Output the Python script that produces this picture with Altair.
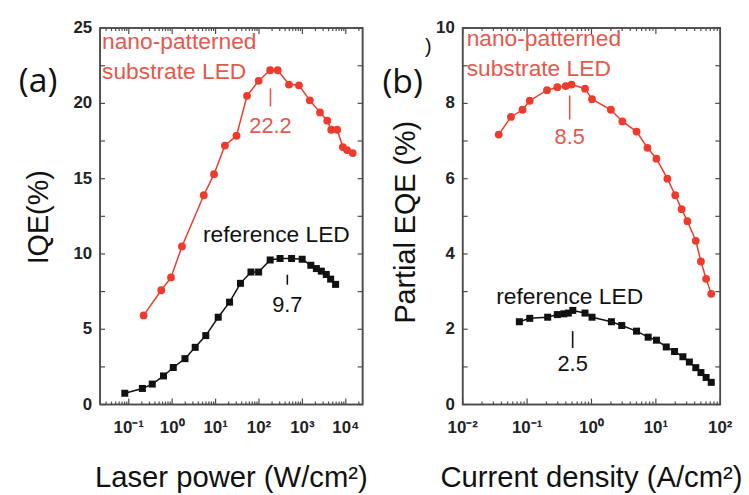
import math
import altair as alt
import pandas as pd

RED = "#ee3b2b"
RED_TEXT = "#e5584c"
BLACK = "#111111"
FRAME = "#4a4a4a"
FONT = "Liberation Sans"
LETTER_FONT = "Open Sans"

# ---------------- panel (a): IQE vs laser power ----------------
a_nano_power = [0.22, 0.56, 0.94, 1.68, 5.35, 9.2, 16.4, 30.3, 53, 98, 181, 270,
                492, 832, 1483, 2547, 3741, 4613, 6324, 8551, 10715, 14454]
a_nano_iqe = [5.92, 7.59, 8.44, 10.5, 13.9, 15.3, 17.2, 17.85, 20.5, 21.5, 22.2, 22.2,
              21.25, 21.2, 20.2, 19.4, 18.85, 18.25, 18.25, 17.1, 16.9, 16.7]
a_ref_power = [0.081, 0.206, 0.348, 0.63, 1.06, 1.97, 3.39, 5.94, 11.5, 21.0, 37.4, 65.3,
               98, 181, 306, 564, 989, 1563, 2099, 2729, 3548, 4477, 5821]
a_ref_iqe = [0.75, 1.07, 1.36, 1.9, 2.46, 3.05, 3.8, 4.58, 5.8, 6.8, 8.05, 8.8,
             8.8, 9.6, 9.7, 9.7, 9.65, 9.25, 9.03, 8.86, 8.64, 8.33, 7.98]
a_x_exponents = [-1, 0, 1, 2, 3, 4]
a_y_labels = [0, 5, 10, 15, 20, 25]
# peak call-outs: x position, tick top / bottom, label position
a_call_x = [184, 450]
a_call_top = [21.0, 8.62]
a_call_bottom = [19.8, 7.96]
a_call_label_y = [18.5, 6.64]

# ---------------- panel (b): partial EQE vs current density ----------------
b_nano_current = [0.0363, 0.0562, 0.0851, 0.110, 0.204, 0.295, 0.398, 0.490, 0.794, 1.02,
                  2.0, 3.02, 5.01, 7.41, 10.2, 15.1, 20.0, 25.1, 30.9, 41.7, 50.1, 60.3, 72.4]
b_nano_eqe = [7.17, 7.64, 7.83, 8.07, 8.35, 8.43, 8.46, 8.5, 8.39, 8.11,
              7.83, 7.52, 7.25, 6.82, 6.53, 6.0, 5.56, 5.19, 4.87, 4.35, 3.8, 3.34, 2.94]
b_ref_current = [0.0759, 0.110, 0.209, 0.295, 0.372, 0.437, 0.513, 0.794, 1.02, 2.04, 2.95,
                 5.01, 7.59, 10.2, 14.5, 19.5, 26.3, 33.1, 41.7, 50.1, 60.3, 72.4]
b_ref_eqe = [2.2, 2.29, 2.32, 2.39, 2.41, 2.43, 2.5, 2.43, 2.32, 2.2, 2.1,
             1.95, 1.79, 1.71, 1.53, 1.41, 1.27, 1.13, 0.98, 0.85, 0.72, 0.59]
b_x_exponents = [-2, -1, 0, 1, 2]
b_y_labels = [0, 2, 4, 6, 8, 10]
b_call_x = [0.459, 0.51]
b_call_top = [8.21, 1.95]
b_call_bottom = [7.57, 1.50]
b_call_label_y = [7.10, 1.08]

SUP = str.maketrans("-0123456789", "⁻⁰¹²³⁴⁵⁶⁷⁸⁹")


def minor_values(lo, hi):
    vals = []
    for e in range(-4, 6):
        for m in range(2, 10):
            v = m * 10.0 ** e
            if lo <= v <= hi:
                vals.append(v)
    return vals


def note(text, x, y, size, color, align="left", font=FONT, angle=0):
    return alt.Chart(pd.DataFrame({"t": [text]})).mark_text(
        align=align, baseline="middle", font=font, fontSize=size, color=color, angle=angle
    ).encode(x=alt.value(x), y=alt.value(y), text="t:N")


def panel(nano_x, nano_y, ref_x, ref_y, call_x, call_top, call_bottom, call_label_y,
          xdom, ydom, ylabels, ytick_step, exps, xtitle, ytitle, ytitle_x, ytitle_y,
          notes, W, H):
    xs = alt.Scale(type="log", domain=xdom, nice=False)
    ys = alt.Scale(domain=ydom, nice=False, zero=False)
    major = [10.0 ** e for e in exps]
    minor = minor_values(xdom[0], xdom[1])
    yticks = []
    v = ydom[0]
    while v <= ydom[1] + 1e-9:
        yticks.append(v)
        v += ytick_step

    # pixel lengths of tick marks expressed in data units of each scale
    y_per_px = (ydom[1] - ydom[0]) / H
    logx_per_px = math.log10(xdom[1] / xdom[0]) / W

    def X(field):
        return alt.X(field, scale=xs, axis=None)

    def Y(field):
        return alt.Y(field, scale=ys, axis=None)

    nano = pd.DataFrame({"x": nano_x, "y": nano_y})
    ref = pd.DataFrame({"x": ref_x, "y": ref_y})
    labels = [f"{max(nano_y):.1f}", f"{max(ref_y):.1f}"]
    calls = pd.DataFrame({"x": call_x, "y": call_top, "y2": call_bottom,
                          "ly": call_label_y, "label": labels,
                          "c": [RED_TEXT, BLACK]})

    lo_x, hi_x = xdom
    lo_y, hi_y = ydom

    # frame and tick marks drawn as short polylines, one group per segment
    seg_rows = []

    def add_seg(x1, y1, x2, y2, width):
        k = len(seg_rows)
        seg_rows.append((k, 0, x1, y1, width))
        seg_rows.append((k, 1, x2, y2, width))

    def add_xticks(values, size):
        dy = size * y_per_px
        for v in values:
            add_seg(v, lo_y, v, lo_y + dy, 1.2)
            add_seg(v, hi_y, v, hi_y - dy, 1.2)

    def add_yticks(values, size):
        f = 10 ** (size * logx_per_px)
        for v in values:
            add_seg(lo_x, v, lo_x * f, v, 1.2)
            add_seg(hi_x, v, hi_x / f, v, 1.2)

    add_xticks(major, 6)
    add_xticks(minor, 3)
    add_yticks(yticks, 5)
    segs = pd.DataFrame(seg_rows, columns=["k", "o", "x", "y", "w"])
    tick_marks = alt.Chart(segs).mark_line(color=FRAME, strokeWidth=1.2).encode(
        x=X("x:Q"), y=Y("y:Q"), detail="k:N", order="o:Q")

    box = pd.DataFrame({"x": [lo_x, hi_x, hi_x, lo_x, lo_x],
                        "y": [lo_y, lo_y, hi_y, hi_y, lo_y],
                        "o": [0, 1, 2, 3, 4]})
    frame = alt.Chart(box).mark_line(color=FRAME, strokeWidth=1.6).encode(
        x=X("x:Q"), y=Y("y:Q"), order="o:Q")

    # tick labels
    xlab = pd.DataFrame({"v": major, "t": ["10" + str(e).translate(SUP) for e in exps]})
    x_labels = alt.Chart(xlab).mark_text(
        font=FONT, fontSize=17, fontWeight="bold", color="#222", baseline="middle"
    ).encode(x=X("v:Q"), y=alt.value(H + 24), text="t:N")
    ylab = pd.DataFrame({"v": ylabels, "t": [str(v) for v in ylabels]})
    y_labels = alt.Chart(ylab).mark_text(
        font=FONT, fontSize=17, fontWeight="bold", color="#222", baseline="middle",
        align="right"
    ).encode(y=Y("v:Q"), x=alt.value(-8), text="t:N")

    nano_line = alt.Chart(nano).mark_line(color=RED, strokeWidth=1.5).encode(
        x=X("x:Q"), y=Y("y:Q"))
    nano_pts = alt.Chart(nano).mark_circle(color=RED, size=62, opacity=1).encode(
        x=X("x:Q"), y=Y("y:Q"))
    ref_line = alt.Chart(ref).mark_line(color=BLACK, strokeWidth=1.5).encode(
        x=X("x:Q"), y=Y("y:Q"))
    ref_pts = alt.Chart(ref).mark_square(color=BLACK, size=50, opacity=1).encode(
        x=X("x:Q"), y=Y("y:Q"))
    call_rules = alt.Chart(calls).mark_rule(strokeWidth=1.6).encode(
        x=X("x:Q"), y=Y("y:Q"), y2="y2:Q", color=alt.Color("c:N", scale=None))
    call_text = alt.Chart(calls).mark_text(font=FONT, fontSize=22, baseline="middle").encode(
        x=X("x:Q"), y=Y("ly:Q"), text="label:N", color=alt.Color("c:N", scale=None))

    titles = [
        note(xtitle, W / 2, H + 74, 29.5, "#111", align="center"),
        note(ytitle, ytitle_x, ytitle_y, 29, "#111", align="center", angle=270),
    ]

    layers = ([frame, tick_marks, x_labels, y_labels, nano_line, nano_pts, ref_line,
               ref_pts, call_rules, call_text] + titles + notes)
    return alt.layer(*layers).properties(width=W, height=H)


H = 380

left = panel(
    a_nano_power, a_nano_iqe, a_ref_power, a_ref_iqe,
    a_call_x, a_call_top, a_call_bottom, a_call_label_y,
    [0.0218, 24400], [0, 25], a_y_labels, 2.5,
    a_x_exponents, "Laser power (W/cm²)", "IQE(%)", -62, 191,
    [
        note("(a)", -82, 55, 34, "#111", font=LETTER_FONT),
        note("nano-patterned", 2, 14, 23, RED_TEXT),
        note("substrate LED", 2, 44, 23, RED_TEXT),
        note("reference LED", 178, 209, 23, "#111", align="center"),
    ],
    265, H)

right = panel(
    b_nano_current, b_nano_eqe, b_ref_current, b_ref_eqe,
    b_call_x, b_call_top, b_call_bottom, b_call_label_y,
    [0.01, 100], [0, 10], b_y_labels, 1.0,
    b_x_exponents, "Current density (A/cm²)", "Partial EQE (%)", -57, 196,
    [
        note("(b)", -81, 56, 34, "#111", font=LETTER_FONT),
        note(")", -38, 19, 20, "#111"),
        note("nano-patterned", 4, 11, 23, RED_TEXT),
        note("substrate LED", 4, 41, 23, RED_TEXT),
        note("reference LED", 108, 272, 23, "#111", align="center"),
    ],
    260, H)

chart = alt.hconcat(left, right, spacing=101, bounds="flush").properties(
    padding={"left": 18, "top": 16, "right": 5, "bottom": 5},
    background="white",
).configure_view(stroke=FRAME, strokeWidth=1.5)

chart.save("out.html", embed_options={"renderer": "svg", "actions": False})
